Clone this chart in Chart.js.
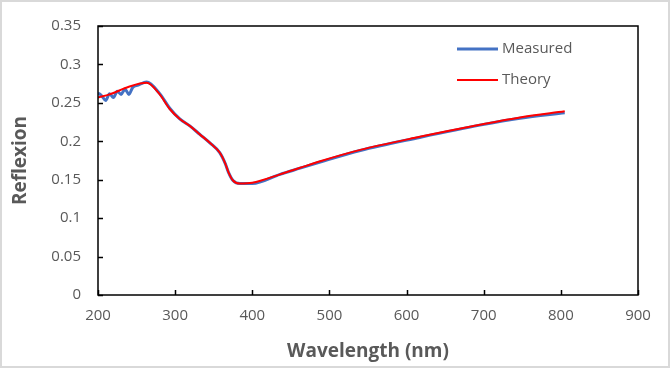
<!DOCTYPE html>
<html>
<head>
<meta charset="utf-8">
<script src="https://cdn.jsdelivr.net/npm/chart.js@4/dist/chart.umd.min.js"></script>
<style>
  body { margin: 0; background: #fff; }
  canvas { display: block; }
</style>
</head>
<body>
<canvas id="chart" width="670" height="368"></canvas>
<script>
// values
var theory_nm = [200, 215, 240, 263, 280, 293, 306, 319, 332, 345, 358, 365, 369, 375, 384, 400, 436, 462, 488, 540, 617, 695, 747, 805];
var theory_r  = [0.257, 0.261, 0.271, 0.276, 0.261, 0.242, 0.229, 0.220, 0.209, 0.198, 0.185, 0.171, 0.160, 0.149, 0.145, 0.146, 0.157, 0.1655, 0.174, 0.1888, 0.2058, 0.2215, 0.231, 0.239];

var measured_nm = [200, 205, 210, 215, 220, 225, 230, 235, 240, 245, 252, 263, 280, 293, 306, 319, 332, 345, 358, 365, 369, 375, 384, 400, 436, 462, 488, 540, 617, 695, 747, 805];
var measured_r  = [0.263, 0.259, 0.253, 0.262, 0.257, 0.265, 0.261, 0.268, 0.261, 0.270, 0.273, 0.277, 0.262, 0.243, 0.229, 0.220, 0.209, 0.198, 0.185, 0.171, 0.160, 0.149, 0.145, 0.145, 0.157, 0.165, 0.173, 0.188, 0.205, 0.221, 0.230, 0.237];

var x_ticks = [200, 300, 400, 500, 600, 700, 800, 900];
var y_ticks = [0, 0.05, 0.1, 0.15, 0.2, 0.25, 0.3, 0.35];

var measured_clr = "#4472C4";
var theory_clr = "#FF0000";
var text_clr = "#595959";

function to_points(xs, ys) {
  return xs.map(function(x, i) { return {x: x, y: ys[i]}; });
}

// gray frame around the whole picture, box round the plot, inward ticks, legend inside
var frame_plugin = {
  id: 'frame',
  beforeDraw: function(chart) {
    var c = chart.ctx;
    c.save();
    c.fillStyle = "#fff";
    c.fillRect(0, 0, chart.width, chart.height);
    c.strokeStyle = "#d9d9d9";
    c.lineWidth = 2;
    c.strokeRect(1, 1, chart.width - 2, chart.height - 2);
    c.restore();
  },
  afterDraw: function(chart) {
    var c = chart.ctx;
    var a = chart.chartArea;
    var xs = chart.scales.x, ys = chart.scales.y;
    c.save();
    c.strokeStyle = "#000";
    c.lineWidth = 1.5;
    c.strokeRect(a.left, a.top, a.right - a.left, a.bottom - a.top);
    c.beginPath();
    x_ticks.forEach(function(v) {
      var px = Math.round(xs.getPixelForValue(v)) + 0.5;
      c.moveTo(px, a.bottom);
      c.lineTo(px, a.bottom - 5);
    });
    y_ticks.forEach(function(v) {
      var py = Math.round(ys.getPixelForValue(v)) + 0.5;
      c.moveTo(a.left, py);
      c.lineTo(a.left + 5, py);
    });
    c.stroke();

    // legend
    var items = chart.data.datasets;
    var lx = 457, ly = 49;
    c.font = "15px 'Open Sans'";
    c.textBaseline = "middle";
    items.forEach(function(ds, i) {
      var y = ly + i * 31;
      c.strokeStyle = ds.borderColor;
      c.lineWidth = ds.borderWidth;
      c.beginPath();
      c.moveTo(lx, y);
      c.lineTo(lx + 41, y);
      c.stroke();
      c.fillStyle = text_clr;
      c.fillText(ds.label, lx + 45, y);
    });
    c.restore();
  }
};

new Chart(document.getElementById('chart'), {
  type: 'line',
  data: {
    datasets: [
      {
        label: 'Measured',
        data: to_points(measured_nm, measured_r),
        borderColor: measured_clr,
        borderWidth: 3,
        pointRadius: 0,
        tension: 0.4,
        cubicInterpolationMode: 'monotone',
        order: 2
      },
      {
        label: 'Theory',
        data: to_points(theory_nm, theory_r),
        borderColor: theory_clr,
        borderWidth: 2,
        pointRadius: 0,
        tension: 0.4,
        cubicInterpolationMode: 'monotone',
        order: 1
      }
    ]
  },
  options: {
    responsive: false,
    animation: false,
    layout: {
      padding: {left: 0, top: 20, right: 32, bottom: 0}
    },
    scales: {
      x: {
        type: 'linear',
        min: 200,
        max: 900,
        afterFit: function(s) { s.height = 73; },
        afterBuildTicks: function(s) { s.ticks = x_ticks.map(function(v) { return {value: v}; }); },
        grid: { display: false, drawTicks: false },
        border: { display: false },
        ticks: {
          padding: 12,
          color: text_clr,
          font: { family: "'Open Sans'", size: 15 },
          maxRotation: 0
        },
        title: {
          display: true,
          text: 'Wavelength (nm)',
          color: text_clr,
          font: { family: "'Open Sans'", size: 19, weight: 'bold' },
          padding: { top: 5, bottom: 5 }
        }
      },
      y: {
        min: 0,
        max: 0.35,
        afterFit: function(s) { s.width = 98; },
        afterBuildTicks: function(s) { s.ticks = y_ticks.map(function(v) { return {value: v}; }); },
        grid: { display: false, drawTicks: false },
        border: { display: false },
        ticks: {
          padding: 17,
          color: text_clr,
          font: { family: "'Open Sans'", size: 15 },
          callback: function(value) { return String(Math.round(value * 100) / 100); }
        },
        title: {
          display: true,
          text: 'Reflexion',
          color: text_clr,
          font: { family: "'Open Sans'", size: 19, weight: 'bold' },
          padding: { top: 9, bottom: 9 }
        }
      }
    },
    plugins: {
      legend: { display: false },
      tooltip: { enabled: false }
    }
  },
  plugins: [frame_plugin]
});
</script>
</body>
</html>
